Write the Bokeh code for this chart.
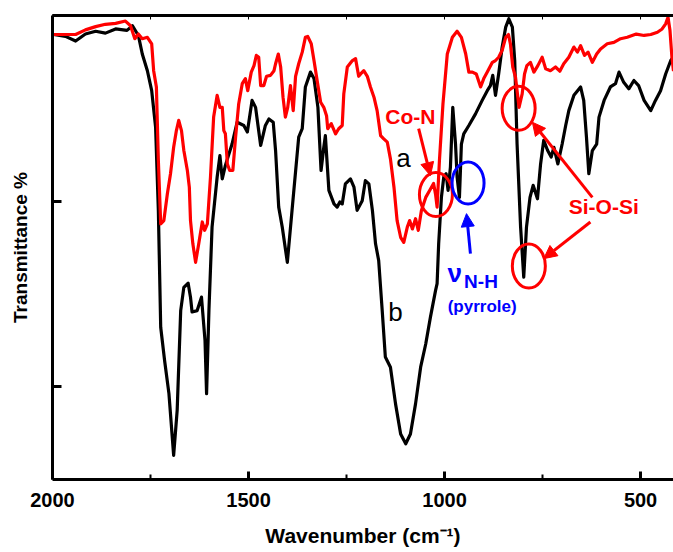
from bokeh.plotting import figure
from bokeh.models import (Range1d, FixedTicker, LinearAxis, Label, Arrow, NormalHead)
from bokeh.embed import file_html
from bokeh.resources import INLINE

# ---- data (wavenumber cm-1, transmittance a.u.) ----
b_wn = [1997, 1967, 1941, 1916, 1890, 1865, 1839, 1810, 1796, 1781, 1771, 1758, 1747, 1737,
        1730, 1724, 1714, 1703, 1691, 1682, 1673, 1665, 1654, 1648, 1644, 1631, 1620, 1611,
        1607, 1601, 1593, 1580, 1573, 1567, 1559, 1542, 1529, 1512, 1503, 1491, 1482, 1469,
        1457, 1448, 1437, 1431, 1423, 1414, 1401, 1389, 1372, 1363, 1355, 1342, 1333, 1323,
        1315, 1308, 1304, 1295, 1282, 1274, 1267, 1261, 1253, 1240, 1231, 1223, 1210, 1202,
        1193, 1184, 1176, 1168, 1159, 1151, 1138, 1125, 1112, 1099, 1087, 1074, 1061, 1048,
        1036, 1023, 1019, 1015, 1008, 1002, 996, 991, 985, 979, 972, 968, 962, 957, 951, 938,
        921, 904, 891, 883, 877, 870, 862, 853, 844, 836, 827, 821, 815, 806, 798, 791, 782,
        774, 763, 755, 747, 737, 728, 721, 711, 700, 691, 683, 670, 653, 645, 638, 632, 623,
        612, 606, 593, 577, 564, 555, 543, 530, 517, 505, 491, 474, 462, 449, 436, 423, 417]
b_tr = [95.9, 95.5, 94.5, 96.0, 96.6, 96.2, 97.1, 96.8, 97.8, 95.7, 91.7, 88.1, 83.8, 75.9,
        58.0, 32.8, 25.6, 18.5, 5.2, 14.9, 36.4, 41.4, 42.3, 39.3, 36.1, 36.4, 39.3, 30.0,
        18.5, 36.4, 54.4, 65.2, 69.8, 64.8, 67.7, 72.3, 77.0, 76.3, 74.9, 81.7, 80.2, 72.0,
        76.3, 77.7, 77.0, 70.9, 58.7, 54.4, 46.8, 58.0, 73.8, 75.6, 84.6, 87.8, 86.4, 80.2,
        66.6, 71.6, 74.1, 62.3, 59.4, 58.7, 59.8, 59.4, 63.7, 64.8, 63.0, 58.0, 60.1, 64.4,
        63.7, 58.0, 50.8, 47.2, 36.4, 26.4, 24.2, 16.3, 9.8, 7.7, 9.8, 16.3, 24.2, 29.2,
        35.0, 40.7, 42.2, 50.8, 60.8, 65.2, 65.9, 62.3, 67.3, 80.2, 72.3, 65.2, 60.8, 72.3, 74.5, 76.3,
        78.8, 81.7, 83.8, 84.9, 87.1, 82.8, 87.4, 93.2, 97.5, 99.3, 97.5, 90.3, 72.3, 54.4, 43.6, 54.4, 60.8,
        63.4, 60.5, 68.0, 73.1, 70.9, 69.5, 71.6, 68.0, 72.3, 76.3, 79.5, 82.8, 84.6, 81.7, 73.8, 65.9, 70.9,
        72.3, 78.1, 81.7, 84.6, 85.3, 87.8, 85.6, 84.2, 86.0, 84.9, 81.7, 79.5, 81.7, 83.8, 87.4, 90.3, 91.0]

a_wn = [1997, 1967, 1941, 1916, 1890, 1865, 1839, 1814, 1801, 1790, 1781, 1771, 1758, 1747,
        1742, 1735, 1730, 1724, 1716, 1707, 1699, 1691, 1684, 1678, 1671, 1665, 1656, 1651,
        1648, 1642, 1635, 1627, 1618, 1612, 1605, 1597, 1589, 1580, 1573, 1567, 1563, 1559,
        1554, 1548, 1540, 1533, 1525, 1516, 1508, 1502, 1493, 1486, 1480, 1474, 1469, 1461,
        1454, 1444, 1435, 1431, 1424, 1418, 1412, 1406, 1400, 1393, 1386, 1380, 1372, 1363,
        1355, 1349, 1340, 1333, 1325, 1316, 1308, 1301, 1298, 1289, 1278, 1270, 1261, 1257,
        1248, 1235, 1227, 1219, 1214, 1206, 1197, 1189, 1180, 1172, 1163, 1155, 1146, 1138,
        1129, 1121, 1112, 1104, 1095, 1089, 1082, 1074, 1067, 1059, 1048, 1038, 1028, 1023,
        1019, 1013, 1004, 993, 980, 968, 957, 946, 938, 929, 919, 908, 900, 891, 878, 870, 862,
        853, 844, 837, 832, 826, 819, 810, 802, 796, 790, 781, 772, 762, 751, 742, 730, 717,
        706, 696, 683, 670, 661, 653, 643, 634, 623, 612, 602, 585, 568, 551, 534, 511, 491,
        474, 457, 445, 436, 430, 425, 420, 416]
a_tr = [95.9, 95.9, 95.9, 96.9, 97.6, 98.1, 98.3, 98.8, 97.8, 95.0, 96.0, 95.0, 95.3, 93.9,
        88.1, 84.6, 68.8, 55.1, 55.8, 61.6, 65.9, 71.6, 75.2, 77.4, 75.2, 70.9, 66.6, 63.0,
        55.8, 50.8, 46.8, 50.8, 55.5, 53.7, 55.1, 65.2, 78.1, 82.8, 80.2, 80.2, 75.2, 74.5,
        68.0, 66.6, 66.6, 73.8, 81.0, 85.3, 86.4, 83.8, 87.8, 89.2, 91.4, 91.0, 84.9, 84.9,
        86.9, 87.1, 88.1, 89.6, 91.7, 88.9, 82.4, 78.1, 80.2, 84.9, 79.5, 86.9, 89.6, 92.1,
        95.3, 95.5, 93.9, 90.3, 86.0, 81.3, 80.2, 78.4, 75.6, 76.7, 74.5, 75.6, 76.3, 83.1,
        88.9, 90.3, 90.7, 86.9, 87.4, 88.1, 86.9, 84.6, 82.4, 79.5, 74.1, 73.4, 72.7, 69.1,
        63.0, 55.8, 52.2, 51.1, 54.4, 55.8, 54.0, 56.2, 53.7, 58.0, 60.8, 62.3, 63.8, 61.5,
        58.7, 68.8, 81.0, 91.7, 95.3, 96.6, 95.3, 91.7, 87.8, 87.8, 87.4, 84.6, 86.4, 87.8, 89.9, 90.3, 91.0,
        92.5, 95.3, 95.9, 93.9, 88.9, 86.7, 80.2, 83.1, 87.4, 89.2, 89.9, 87.8, 89.2, 91.0, 88.5, 88.1, 88.9,
        88.0, 89.6, 91.0, 93.2, 92.1, 93.5, 91.4, 92.1, 89.9, 91.7, 92.8, 93.9, 94.2, 95.0, 95.3, 96.0, 95.7,
        95.9, 96.4, 97.1, 98.2, 99.6, 96.8, 91.0, 88.0]

x_ticks = [2000, 1500, 1000, 500]
x_minor = [1750, 1250, 750]
y_ticks = [20, 60, 100]

# annotation anchors (data units)
circ_red_x = [1022, 811, 785]
circ_red_y = [61.4, 80.0, 46.0]
circ_blue_x = [940]
circ_blue_y = [63.9]

FONT = "Liberation Sans"

p = figure(width=673, height=552, output_backend="svg", toolbar_location=None,
           x_range=Range1d(2000, 416), y_range=Range1d(0, 100),
           min_border_left=52, min_border_right=0, min_border_top=15, min_border_bottom=73,
           x_axis_label="Wavenumber (cm\u207b\u00b9)", y_axis_label="Transmittance %")
p.frame_width = 621
p.frame_height = 464
p.outline_line_color = None
p.xgrid.visible = False
p.ygrid.visible = False
p.background_fill_color = "white"
p.border_fill_color = "white"

p.xaxis.ticker = FixedTicker(ticks=x_ticks, minor_ticks=x_minor)
# y ticks carry no labels: draw them as (unlabelled) minor ticks
p.yaxis.ticker = FixedTicker(ticks=[], minor_ticks=y_ticks)

for ax in (p.xaxis[0], p.yaxis[0]):
    ax.axis_line_width = 3
    ax.axis_line_color = "black"
    ax.major_tick_line_width = 3
    ax.major_tick_in = 8
    ax.major_tick_out = 0
    ax.minor_tick_line_width = 2
    ax.minor_tick_in = 5
    ax.minor_tick_out = 0
    ax.axis_label_text_font = FONT
    ax.axis_label_text_font_style = "bold"
    ax.axis_label_text_color = "black"
    ax.major_label_text_font = FONT
    ax.major_label_text_font_style = "bold"
    ax.major_label_text_color = "black"

p.xaxis.major_label_text_font_size = "20px"
p.xaxis.major_label_standoff = 13
p.xaxis.axis_label_text_font_size = "21px"
p.xaxis.axis_label_standoff = 14
p.yaxis.minor_tick_in = 9
p.yaxis.minor_tick_line_width = 3
p.yaxis.axis_label_text_font_size = "19px"
p.yaxis.axis_label_standoff = 22

top = LinearAxis(ticker=FixedTicker(ticks=[], minor_ticks=x_ticks + x_minor),
                 axis_line_width=3, axis_line_color="black",
                 minor_tick_in=4, minor_tick_out=0, minor_tick_line_width=1,
                 major_tick_in=0, major_tick_out=0)
p.add_layout(top, "above")

p.line(b_wn, b_tr, line_color="black", line_width=3.2, line_join="round")
p.line(a_wn, a_tr, line_color="#ff0000", line_width=3.2, line_join="round")

p.ellipse(x=circ_red_x, y=circ_red_y, width=33, height=44, width_units="screen",
          height_units="screen", fill_color=None, line_color="#ff0000", line_width=3)
p.ellipse(x=circ_blue_x, y=circ_blue_y, width=32, height=42, width_units="screen",
          height_units="screen", fill_color=None, line_color="#0000ff", line_width=3)

def arrow(x0, y0, x1, y1, color):
    p.add_layout(Arrow(end=NormalHead(size=13, fill_color=color, line_color=color, line_width=1),
                       x_start=x0, y_start=y0, x_end=x1, y_end=y1,
                       line_color=color, line_width=3))

arrow(1066, 75.6, 1036, 65.5, "#ff0000")
arrow(934, 48.7, 944, 57.3, "#0000ff")
arrow(623, 60.8, 776, 77.0, "#ff0000")
arrow(628, 55.5, 747, 47.6, "#ff0000")

def label(x, y, text, color, size, style="bold"):
    p.add_layout(Label(x=x, y=y, text=text, text_color=color, text_font=FONT,
                       text_font_size=size, text_font_style=style,
                       text_align="center", text_baseline="middle"))

label(1105, 69.2, "a", "black", "26px", "normal")
label(1125, 36.2, "b", "black", "26px", "normal")
label(1087, 78.2, "Co-N", "#ff0000", "21px")
label(594, 58.8, "Si-O-Si", "#ff0000", "21px")
label(974, 44.6, "\u03bd", "#0000ff", "26px", "bold")
label(907, 42.6, "N-H", "#0000ff", "19px")
label(904, 37.3, "(pyrrole)", "#0000ff", "17px")

open("out.html", "w").write(file_html(p, INLINE))
